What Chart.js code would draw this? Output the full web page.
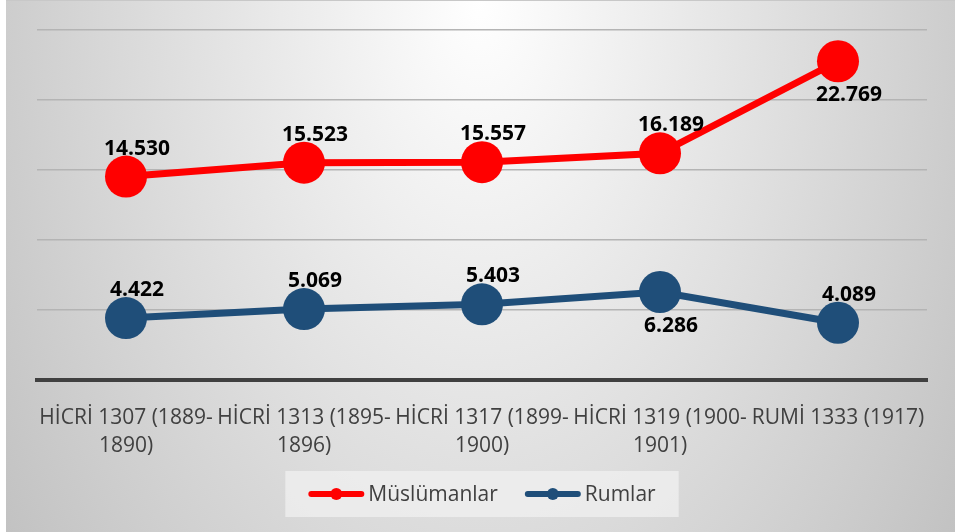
<!DOCTYPE html>
<html>
<head>
<meta charset="utf-8">
<script src="https://cdn.jsdelivr.net/npm/chart.js@4"></script>
<style>
  html, body { margin: 0; padding: 0; background: #ffffff; }
  #wrap { position: absolute; left: 6px; top: 0; }
</style>
</head>
<body>
<div id="wrap"><canvas id="nufusChart" width="949" height="532"></canvas></div>
<script>
// Data
const categories = [
    ['HİCRİ 1307 (1889-', '1890)'],
    ['HİCRİ 1313 (1895-', '1896)'],
    ['HİCRİ 1317 (1899-', '1900)'],
    ['HİCRİ 1319 (1900-', '1901)'],
    'RUMİ 1333 (1917)'
];
const muslumanlar = [14530, 15523, 15557, 16189, 22769];
const rumlar = [4422, 5069, 5403, 6286, 4089];
const yTicks = [0, 5000, 10000, 15000, 20000, 25000];

const RED = '#ff0000';
const BLUE = '#1f4e79';
const TEXT = '#404040';
const FONT = '"Open Sans", "Liberation Sans", sans-serif';

// Turkish style thousands separator: 14530 -> 14.530
function fmt(v) {
    return String(v).replace(/\B(?=(\d{3})+(?!\d))/g, '.');
}

// Gray-white gradient behind everything
const backgroundPlugin = {
    id: 'background',
    beforeDraw(chart) {
        const ctx = chart.ctx;
        const w = chart.width, h = chart.height;
        ctx.save();
        ctx.translate(w / 2, 0);
        ctx.scale(1, 1.6);
        const g = ctx.createRadialGradient(0, 0, 0, 0, 0, 580);
        g.addColorStop(0, '#ffffff');
        g.addColorStop(1, '#c2c2c2');
        ctx.fillStyle = g;
        ctx.fillRect(-w, 0, w * 2, h);
        ctx.restore();
        ctx.fillStyle = '#c8c8c8';
        ctx.fillRect(0, 0, w, 1);
    }
};

// Value labels: above the point, below for the series maximum
const valueLabelPlugin = {
    id: 'valueLabels',
    afterDatasetsDraw(chart) {
        const ctx = chart.ctx;
        ctx.save();
        ctx.font = 'bold 21px ' + FONT;
        ctx.fillStyle = '#000000';
        ctx.textAlign = 'center';
        ctx.textBaseline = 'middle';
        chart.data.datasets.forEach(function(ds, di) {
            const max = Math.max.apply(null, ds.data);
            chart.getDatasetMeta(di).data.forEach(function(pt, i) {
                const v = ds.data[i];
                const dy = v === max ? 34 : -28;
                ctx.fillText(fmt(v), pt.x + 11, pt.y + dy);
            });
        });
        ctx.restore();
    }
};

// Legend drawn in a light box under the axis labels
const legendPlugin = {
    id: 'boxLegend',
    afterDraw(chart) {
        const ctx = chart.ctx;
        const area = chart.chartArea;
        ctx.save();
        ctx.font = '21px ' + FONT;
        const lineW = 56, gap = 4, itemGap = 27, padX = 23;
        const items = chart.data.datasets.map(function(ds) {
            return { label: ds.label, color: ds.borderColor, tw: ctx.measureText(ds.label).width };
        });
        let total = 0;
        items.forEach(function(it, i) { total += lineW + gap + it.tw + (i ? itemGap : 0); });
        const boxW = total + padX * 2, boxH = 46;
        const cx = (area.left + area.right) / 2;
        const bx = cx - boxW / 2, by = 471;
        ctx.fillStyle = 'rgba(240,240,240,0.75)';
        ctx.fillRect(bx, by, boxW, boxH);
        const cy = by + boxH / 2;
        let x = bx + padX;
        items.forEach(function(it, i) {
            if (i) x += itemGap;
            ctx.strokeStyle = it.color;
            ctx.lineWidth = 6;
            ctx.lineCap = 'round';
            ctx.beginPath();
            ctx.moveTo(x + 3, cy);
            ctx.lineTo(x + lineW - 3, cy);
            ctx.stroke();
            ctx.fillStyle = it.color;
            ctx.beginPath();
            ctx.arc(x + lineW / 2, cy, 6, 0, Math.PI * 2);
            ctx.fill();
            x += lineW + gap;
            ctx.fillStyle = TEXT;
            ctx.textAlign = 'left';
            ctx.textBaseline = 'middle';
            ctx.fillText(it.label, x, cy + 1);
            x += it.tw;
        });
        ctx.restore();
    }
};

const ctx = document.getElementById('nufusChart').getContext('2d');
new Chart(ctx, {
    type: 'line',
    data: {
        labels: categories,
        datasets: [{
            label: 'Müslümanlar',
            data: muslumanlar,
            borderColor: RED,
            backgroundColor: RED,
            borderWidth: 7,
            pointRadius: 21,
            pointHoverRadius: 21,
            pointBorderWidth: 0,
            tension: 0
        }, {
            label: 'Rumlar',
            data: rumlar,
            borderColor: BLUE,
            backgroundColor: BLUE,
            borderWidth: 7,
            pointRadius: 21,
            pointHoverRadius: 21,
            pointBorderWidth: 0,
            tension: 0
        }]
    },
    options: {
        responsive: false,
        animation: false,
        layout: {
            padding: { top: 30, left: 31, right: 28, bottom: 52 }
        },
        plugins: {
            legend: { display: false },
            tooltip: { enabled: false }
        },
        scales: {
            x: {
                offset: true,
                grid: { display: false },
                border: { display: true, color: TEXT, width: 4 },
                ticks: {
                    color: TEXT,
                    font: { family: FONT, size: 21, lineHeight: 1.33 },
                    padding: 16,
                    maxRotation: 0,
                    autoSkip: false
                },
                afterFit: function(scale) { scale.height = 100; }
            },
            y: {
                min: yTicks[0],
                max: yTicks[yTicks.length - 1],
                afterBuildTicks: function(scale) {
                    scale.ticks = yTicks.map(function(v) { return { value: v }; });
                },
                grid: { color: '#b4b4b4', lineWidth: 1.5, drawTicks: false },
                border: { display: false },
                ticks: { display: false },
                afterFit: function(scale) { scale.width = 0; }
            }
        }
    },
    plugins: [backgroundPlugin, valueLabelPlugin, legendPlugin]
});
</script>
</body>
</html>
